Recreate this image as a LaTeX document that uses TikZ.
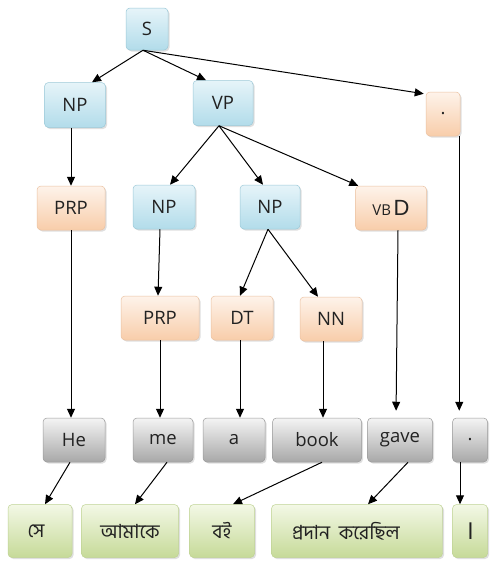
\documentclass[tikz,border=0pt]{standalone}
\usepackage{fontspec}
\setmainfont{Open Sans}
\newfontfamily\bnfont[Script=Bengali]{Hind Siliguri}
\newfontfamily\dfont{Liberation Sans}
\usetikzlibrary{arrows.meta,shadows}
\definecolor{bluetop}{HTML}{E6F4F9}
\definecolor{bluebot}{HTML}{B2DCEA}
\definecolor{bluebd}{HTML}{9CC9D8}
\definecolor{ortop}{HTML}{FEF3EA}
\definecolor{orbot}{HTML}{F8CDAA}
\definecolor{orbd}{HTML}{EBC2A2}
\definecolor{grtop}{HTML}{F4F4F4}
\definecolor{grbot}{HTML}{A8A8A8}
\definecolor{grbd}{HTML}{9A9A9A}
\definecolor{gntop}{HTML}{F3F8E6}
\definecolor{gnbot}{HTML}{C6DA98}
\definecolor{gnbd}{HTML}{BFD394}
\definecolor{txt}{HTML}{222222}
\tikzset{
  box/.style={rounded corners=4pt, inner sep=0pt, line width=0.5pt, text=txt,
    font=\fontsize{18.5}{20}\selectfont,
    drop shadow={opacity=0.25, shadow xshift=1.5pt, shadow yshift=-1.5pt}},
  bluebox/.style={box, draw=bluebd, top color=bluetop, bottom color=bluebot},
  orbox/.style={box, draw=orbd, top color=ortop, bottom color=orbot},
  grbox/.style={box, draw=grbd, top color=grtop, bottom color=grbot},
  gnbox/.style={box, draw=gnbd, top color=gntop, bottom color=gnbot, font=\bnfont\fontsize{19.5}{21}\selectfont},
  arr/.style={-{Triangle[length=9pt,width=8pt]}, line width=1pt, black}
}
\begin{document}
\begin{tikzpicture}[x=1pt,y=-1pt]
\useasboundingbox[fill=white] (0,0) rectangle (490,565);
% level 0
\node[bluebox, minimum width=42pt, minimum height=42pt] (S) at (147,29) {S};
% level 1
\node[bluebox, minimum width=61pt, minimum height=45pt] (NP1) at (75,105) {NP};
\node[bluebox, minimum width=60pt, minimum height=45pt] (VP) at (223,103) {VP};
\node[orbox, minimum width=34pt, minimum height=44pt] (dot1) at (443,114) {.};
% level 2
\node[orbox, minimum width=68pt, minimum height=44pt] (PRP1) at (71,208) {PRP};
\node[bluebox, minimum width=62pt, minimum height=44pt] (NP2) at (164,207) {NP};
\node[bluebox, minimum width=60pt, minimum height=44pt] (NP3) at (270,207) {NP};
\node[orbox, minimum width=71pt, minimum height=44pt] (VBD) at (391,208) {\fontsize{15}{17}\selectfont VB\,\raisebox{-0.5pt}{\dfont\fontsize{22}{24}\selectfont D}};
% level 3
\node[orbox, minimum width=78pt, minimum height=44pt] (PRP2) at (160,318) {PRP};
\node[orbox, minimum width=62pt, minimum height=44pt] (DT) at (242,318) {DT};
\node[orbox, minimum width=62pt, minimum height=44pt] (NN) at (331,319) {NN};
% words
\node[grbox, minimum width=62pt, minimum height=44pt] (He) at (74,440) {He};
\node[grbox, minimum width=60pt, minimum height=44pt] (me) at (163,440) {me};
\node[grbox, minimum width=62pt, minimum height=44pt] (a) at (234,440) {a};
\node[grbox, minimum width=89pt, minimum height=44pt] (book) at (317,440) {book};
\node[grbox, minimum width=65pt, minimum height=44pt] (gave) at (400,440) {gave};
\node[grbox, minimum width=35pt, minimum height=44pt] (dot2) at (470,440) {.};
% bengali
\node[gnbox, minimum width=64pt, minimum height=53pt] (se) at (40,531) {সে\hspace*{8pt}};
\node[gnbox, minimum width=97pt, minimum height=53pt] (amake) at (130,531) {আমাকে};
\node[gnbox, minimum width=65pt, minimum height=53pt] (boi) at (222,531) {বই};
\node[gnbox, minimum width=171pt, minimum height=53pt] (prodan) at (357,531) {প্রদান\ \ করেছিল\hspace*{22pt}};
\node[gnbox, minimum width=35pt, minimum height=53pt, font=\bnfont\fontsize{26}{28}\selectfont] (danda) at (470,531) {।};
% edges
\draw[arr] ([xshift=-4pt]S.south) -- ([xshift=17pt]NP1.north);
\draw[arr] ([xshift=-4pt]S.south) -- ([xshift=-17pt]VP.north);
\draw[arr] ([xshift=-4pt]S.south) -- ([xshift=-2pt,yshift=-2pt]dot1.north west);
\draw[arr] (PRP1.north |- NP1.south) -- (PRP1.north);
\draw[arr] ([xshift=-4pt]VP.south) -- ([xshift=6pt]NP2.north);
\draw[arr] ([xshift=-4pt]VP.south) -- ([xshift=-7pt]NP3.north);
\draw[arr] ([xshift=-4pt]VP.south) -- ([xshift=3pt]VBD.north west);
\draw[arr] ([xshift=-4pt]NP2.south) -- ([xshift=-2pt]PRP2.north);
\draw[arr] ([xshift=-2pt]NP3.south) -- ([xshift=-2pt]DT.north);
\draw[arr] ([xshift=-2pt]NP3.south) -- ([xshift=-13pt]NN.north);
\draw[arr] (PRP1.south) -- (PRP1.south |- He.north);
\draw[arr] (PRP2.south) -- (PRP2.south |- me.north);
\draw[arr] ([xshift=-2pt]DT.south) -- ([xshift=-2pt]DT.south |- a.north);
\draw[arr] ([xshift=-8pt]NN.south) -- ([xshift=-8pt]NN.south |- book.north);
\draw[arr, shorten >=7pt] ([xshift=7pt]VBD.south) -- ([xshift=-4pt]gave.north);
\draw[arr, shorten >=7pt] ([xshift=-1pt]dot1.south east) -- ([xshift=-1pt]dot1.south east |- dot2.north);
\draw[arr] ([xshift=-4pt]He.south) -- ([xshift=5pt]se.north);
\draw[arr] ([xshift=4pt]me.south) -- ([xshift=5pt]amake.north);
\draw[arr] ([xshift=5pt]book.south) -- ([xshift=11pt]boi.north);
\draw[arr] ([xshift=8pt]gave.south) -- ([xshift=11pt]prodan.north);
\draw[arr] ([xshift=-10pt]dot2.south) -- ([xshift=-10pt]danda.north);
\end{tikzpicture}
\end{document}
